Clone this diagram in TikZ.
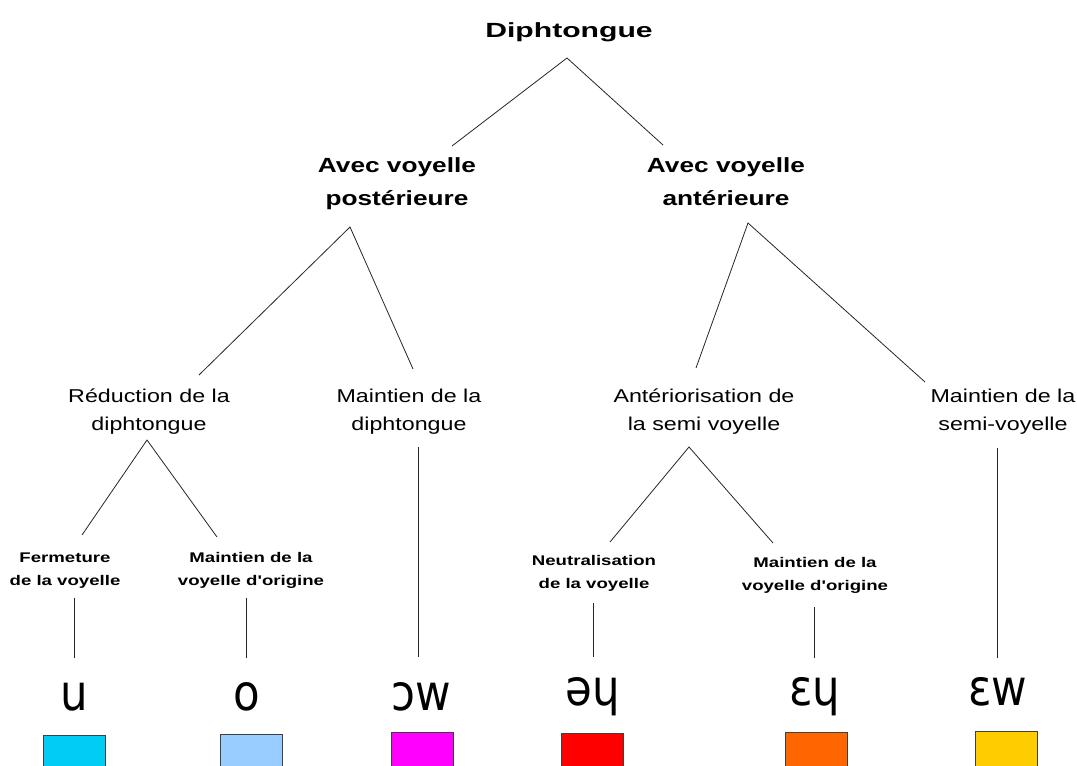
\documentclass[tikz,border=0pt]{standalone}
\usepackage{fontspec}
\setmainfont{Liberation Sans}
\newfontfamily\fDiph[FakeStretch=1.47]{Liberation Sans}
\newfontfamily\fBig[FakeStretch=1.28]{Liberation Sans}
\newfontfamily\fMed[FakeStretch=1.25]{Liberation Sans}
\newfontfamily\fSmall[FakeStretch=1.33]{Liberation Sans}
\newfontfamily\fIPA[FakeStretch=0.87]{DejaVu Sans}
\definecolor{cU}{RGB}{0,204,245}
\definecolor{cO}{RGB}{153,204,255}
\definecolor{cOW}{RGB}{255,0,255}
\definecolor{cEY}{RGB}{255,0,0}
\definecolor{cEpY}{RGB}{255,102,0}
\definecolor{cEW}{RGB}{255,204,0}
\begin{document}
\begin{tikzpicture}[x=1pt,y=-1pt,
  lbl/.style={inner sep=0pt, align=center},
  diph/.style={lbl, font={\fDiph\bfseries\fontsize{20.5}{24}\selectfont}},
  big/.style={lbl, font={\fBig\bfseries\fontsize{20.5}{33}\selectfont}},
  med/.style={lbl, font={\fMed\fontsize{18.6}{28}\selectfont}},
  small/.style={lbl, font={\fSmall\bfseries\fontsize{14}{23}\selectfont}},
  ipa/.style={inner sep=0pt, anchor=base, font={\fIPA\fontsize{50}{60}\selectfont}},
  link/.style={line width=0.8pt, black!85},
  swatch/.style={draw=black!75, line width=0.8pt, minimum width=62pt, minimum height=36pt, inner sep=0pt}]
\useasboundingbox (0,0) rectangle (1077,766);
\clip (0,0) rectangle (1077,766);
\fill[white] (0,0) rectangle (1077,766);

% nodes
\node[diph, anchor=base] (root) at (569,37.3) {Diphtongue};
\node[big] (post) at (397,182.3) {\strut Avec voyelle\\\strut postérieure};
\node[big] (ant) at (726,182.3) {\strut Avec voyelle\\\strut antérieure};
\node[med] (red) at (149,411) {\strut Réduction de la\\\strut diphtongue};
\node[med] (maid) at (409,411) {\strut Maintien de la\\\strut diphtongue};
\node[med] (anto) at (704,411) {\strut Antériorisation de\\\strut la semi voyelle};
\node[med] (mais) at (1003,411) {\strut Maintien de la\\\strut semi-voyelle};
\node[small] (ferm) at (65,569) {\strut Fermeture\\\strut de la voyelle};
\node[small] (maio) at (251,569) {\strut Maintien de la\\\strut voyelle d'origine};
\node[small] (neut) at (594,572) {\strut Neutralisation\\\strut de la voyelle};
\node[small] (maio2) at (815,574) {\strut Maintien de la\\\strut voyelle d'origine};

\node[ipa] (iu) at (74,710) {u};
\node[ipa] (io) at (247,710) {o};
\node[ipa] (iow) at (421,710) {ɔw};
\node[ipa] (iey) at (593,705) {əɥ};
\node[ipa] (iepy) at (815,705) {ɛɥ};
\node[ipa] (iew) at (998,705) {ɛw};

\node[swatch, fill=cU] (bu) at (74,753) {};
\node[swatch, fill=cO] (bo) at (251,752) {};
\node[swatch, fill=cOW] (bow) at (422,750) {};
\node[swatch, fill=cEY] (bey) at (592.5,751) {};
\node[swatch, fill=cEpY] (bepy) at (816.5,750) {};
\node[swatch, fill=cEW] (bew) at (1006.5,749) {};

% connector points
\coordinate (rootA) at (567,58);
\coordinate (postT) at (452,146);
\coordinate (antT) at (663,145);
\coordinate (postA) at (350,227);
\coordinate (redT) at (199,375);
\coordinate (maidT) at (413,369);
\coordinate (antA) at (748,223);
\coordinate (antoT) at (696,368);
\coordinate (maisT) at (925,382);
\coordinate (redA) at (147,440);
\coordinate (fermT) at (82,535);
\coordinate (maioT) at (217,537);
\coordinate (antoA) at (689,447);
\coordinate (neutT) at (610,542);
\coordinate (maio2T) at (773,543);
\coordinate (fermA) at (74,598);
\coordinate (iuT) at (74,658);
\coordinate (maioA) at (246,598);
\coordinate (ioT) at (246,658);
\coordinate (maidA) at (418,447);
\coordinate (iowT) at (418,657);
\coordinate (neutA) at (593,603);
\coordinate (ieyT) at (593,657);
\coordinate (maio2A) at (814,607);
\coordinate (iepyT) at (814,658);
\coordinate (maisA) at (997,448);
\coordinate (iewT) at (997,658);

% connectors
\draw[link] (postT) -- (rootA) -- (antT);
\draw[link] (redT) -- (postA) -- (maidT);
\draw[link] (antoT) -- (antA) -- (maisT);
\draw[link] (fermT) -- (redA) -- (maioT);
\draw[link] (neutT) -- (antoA) -- (maio2T);
\draw[link] (fermA) -- (iuT);
\draw[link] (maioA) -- (ioT);
\draw[link] (maidA) -- (iowT);
\draw[link] (neutA) -- (ieyT);
\draw[link] (maio2A) -- (iepyT);
\draw[link] (maisA) -- (iewT);
\end{tikzpicture}
\end{document}
